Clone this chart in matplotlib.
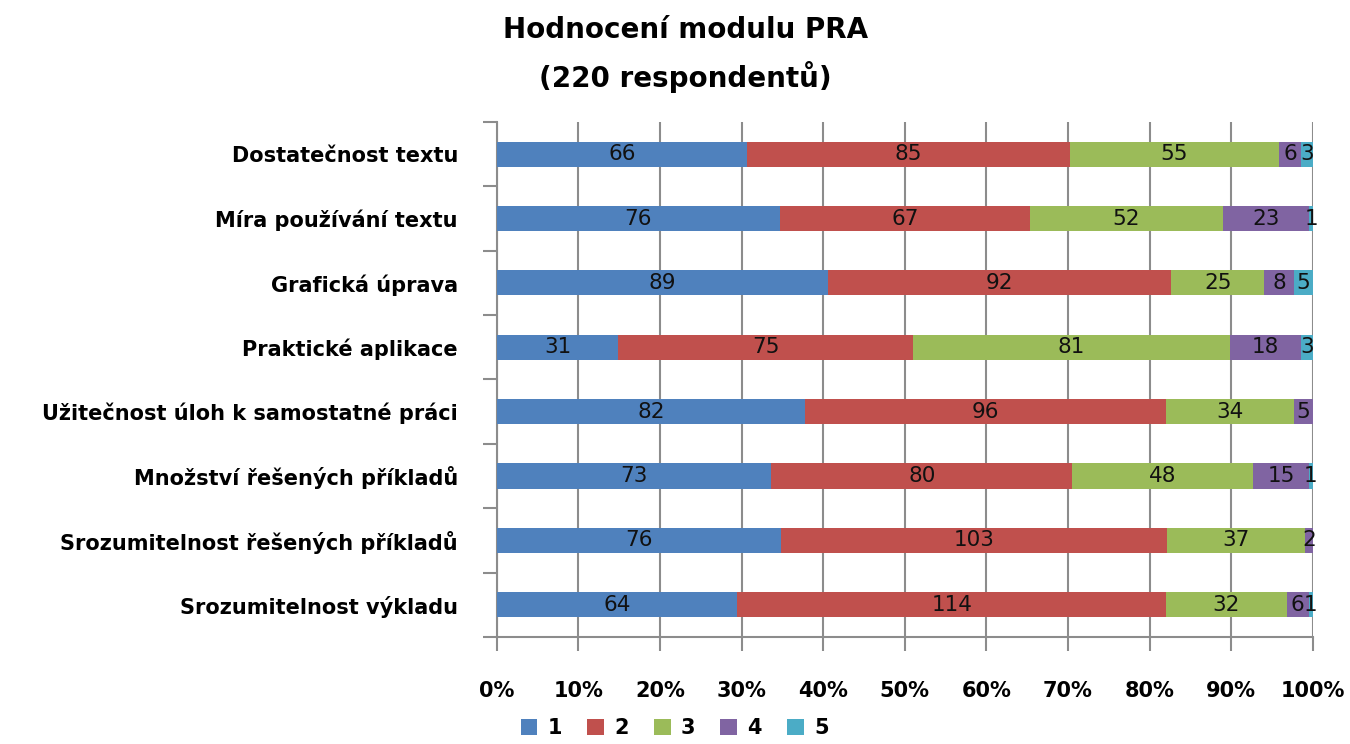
import matplotlib
matplotlib.use("Agg")
from matplotlib import pyplot as plt
import numpy as np

# category labels, top to bottom as in the chart
categories = [
    "Dostatečnost textu",
    "Míra používání textu",
    "Grafická úprava",
    "Praktické aplikace",
    "Užitečnost úloh k samostatné práci",
    "Množství řešených příkladů",
    "Srozumitelnost řešených příkladů",
    "Srozumitelnost výkladu",
]

# counts of answers per grade
grade_1 = [66, 76, 89, 31, 82, 73, 76, 64]
grade_2 = [85, 67, 92, 75, 96, 80, 103, 114]
grade_3 = [55, 52, 25, 81, 34, 48, 37, 32]
grade_4 = [6, 23, 8, 18, 5, 15, 2, 6]
grade_5 = [3, 1, 5, 3, 0, 1, 0, 1]

series_names = ["1", "2", "3", "4", "5"]
colors = ["#4F81BD", "#C0504D", "#9BBB59", "#8064A2", "#4BACC6"]

counts = np.array([grade_1, grade_2, grade_3, grade_4, grade_5], dtype=float)
totals = counts.sum(axis=0)
shares = counts / totals

fig = plt.figure(figsize=(13.5, 7.44), dpi=100)
ax = fig.add_axes([0.368, 0.144, 0.6045, 0.692])

ypos = np.arange(len(categories))[::-1]
left = np.zeros(len(categories))
for i in range(5):
    bars = ax.barh(ypos, shares[i], left=left, height=0.39, color=colors[i],
                   label=series_names[i], zorder=3)
    for j, b in enumerate(bars):
        v = int(counts[i, j])
        if v > 0:
            ax.text(left[j] + shares[i, j] / 2, ypos[j], str(v),
                    ha="center", va="center", fontsize=15.5, color="#111111",
                    zorder=4)
    left += shares[i]

ax.set_xlim(0, 1)
ax.set_ylim(-0.5, len(categories) - 0.5)

grid_col = "#8C8C8C"
ax.set_xticks(np.linspace(0, 1, 11))
ax.set_xticklabels([f"{int(round(t * 100))}%" for t in np.linspace(0, 1, 11)],
                   fontsize=15, fontweight="bold")
ax.xaxis.grid(True, color=grid_col, linewidth=1.5, zorder=0)
ax.tick_params(axis="x", length=10, width=1.5, color=grid_col, pad=22)

ax.set_yticks(ypos)
ax.set_yticklabels(categories, fontsize=15, fontweight="bold")
ax.set_yticks(np.arange(-0.5, len(categories), 1), minor=True)
ax.tick_params(axis="y", which="major", length=0, pad=28)
ax.tick_params(axis="y", which="minor", length=10, width=1.5, color=grid_col)

for side in ["top", "right"]:
    ax.spines[side].set_visible(False)
for side in ["left", "bottom"]:
    ax.spines[side].set_color(grid_col)
    ax.spines[side].set_linewidth(1.5)

fig.text(0.508, 0.96, "Hodnocení modulu PRA", ha="center", va="center",
         fontsize=20, fontweight="bold")
fig.text(0.508, 0.897, "(220 respondentů)", ha="center", va="center",
         fontsize=20, fontweight="bold")

ax.legend(loc="center", bbox_to_anchor=(0.218, -0.177), ncol=5, frameon=False,
          handlelength=0.8, handleheight=0.8, columnspacing=1.2,
          handletextpad=0.5, borderpad=0.2, prop={"weight": "bold", "size": 15})

fig.savefig("out.png", dpi=100)
